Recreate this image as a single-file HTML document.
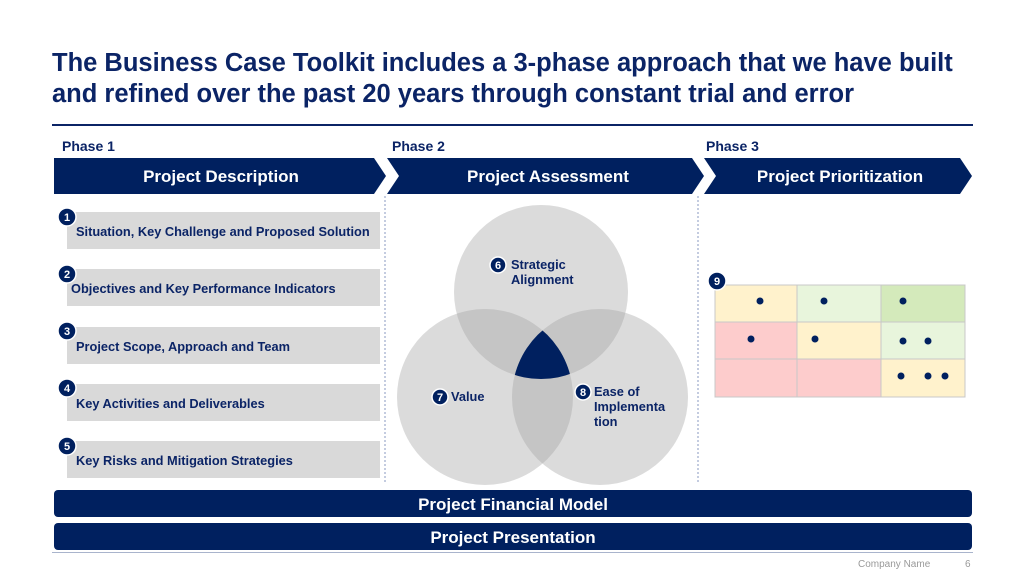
<!DOCTYPE html>
<html><head><meta charset="utf-8"><style>
html,body{margin:0;padding:0;background:#fff;}
svg{display:block;font-family:"Liberation Sans",Arial,sans-serif;}
</style></head><body>
<svg width="1024" height="576" viewBox="0 0 1024 576" xmlns="http://www.w3.org/2000/svg">
<defs>
<clipPath id="cl"><circle cx="485" cy="397" r="88"/></clipPath>
<clipPath id="cr"><circle cx="600" cy="397" r="88"/></clipPath>
</defs>
<text x="52" y="71" font-size="25.5" font-weight="bold" fill="#0b2466">The Business Case Toolkit includes a 3-phase approach that we have built</text>
<text x="52" y="102" font-size="25.5" font-weight="bold" fill="#0b2466">and refined over the past 20 years through constant trial and error</text>
<rect x="52" y="124" width="921" height="2" fill="#0b2466"/>
<g font-size="14" font-weight="bold" fill="#0b2466">
<text x="62" y="151">Phase 1</text><text x="392" y="151">Phase 2</text><text x="706" y="151">Phase 3</text></g>
<g fill="#00205f">
<polygon points="54,158 374,158 386,176 374,194 54,194"/>
<polygon points="387,158 692,158 704,176 692,194 387,194 399,176"/>
<polygon points="704,158 960,158 972,176 960,194 704,194 716,176"/>
</g>
<g font-size="17" font-weight="bold" fill="#fff" text-anchor="middle">
<text x="221" y="182">Project Description</text>
<text x="548" y="182">Project Assessment</text>
<text x="840" y="182">Project Prioritization</text></g>
<g stroke="#8a9ac0" stroke-width="1" stroke-dasharray="2,2">
<line x1="385" y1="196" x2="385" y2="482"/><line x1="698" y1="196" x2="698" y2="482"/></g>
<g fill="#d9d9d9">
<rect x="67" y="212" width="313" height="37"/><rect x="67" y="269" width="313" height="37"/>
<rect x="67" y="327" width="313" height="37"/><rect x="67" y="384" width="313" height="37"/>
<rect x="67" y="441" width="313" height="37"/></g>
<g font-size="12.8" font-weight="bold" fill="#0b2466">
<text x="76" y="236">Situation, Key Challenge and Proposed Solution</text>
<text x="71" y="293">Objectives and Key Performance Indicators</text>
<text x="76" y="351">Project Scope, Approach and Team</text>
<text x="76" y="408">Key Activities and Deliverables</text>
<text x="76" y="465">Key Risks and Mitigation Strategies</text></g>
<g fill="#00205f" stroke="#fff" stroke-width="1.5">
<circle cx="67" cy="217" r="9"/><circle cx="67" cy="274" r="9"/><circle cx="67" cy="331" r="9"/><circle cx="67" cy="388" r="9"/><circle cx="67" cy="446" r="9"/></g>
<g font-size="11" font-weight="bold" fill="#fff" text-anchor="middle">
<text x="67" y="221">1</text><text x="67" y="278">2</text><text x="67" y="335">3</text><text x="67" y="392">4</text><text x="67" y="450">5</text></g>
<g fill="#a0a0a0" fill-opacity="0.38">
<circle cx="541" cy="292" r="87"/><circle cx="485" cy="397" r="88"/><circle cx="600" cy="397" r="88"/></g>
<g clip-path="url(#cl)"><circle cx="541" cy="292" r="87" fill="#00205f" clip-path="url(#cr)"/></g>
<g fill="#00205f" stroke="#fff" stroke-width="1.5">
<circle cx="498" cy="265" r="8"/><circle cx="440" cy="397" r="8"/><circle cx="583" cy="392" r="8"/></g>
<g font-size="11" font-weight="bold" fill="#fff" text-anchor="middle">
<text x="498" y="269">6</text><text x="440" y="401">7</text><text x="583" y="396">8</text></g>
<g font-size="12.8" font-weight="bold" fill="#0b2466">
<text x="511" y="269">Strategic</text><text x="511" y="284">Alignment</text>
<text x="451" y="401">Value</text>
<text x="594" y="396">Ease of</text><text x="594" y="411">Implementa</text><text x="594" y="426">tion</text></g>
<g stroke="#c8c8c8" stroke-width="1">
<rect x="715" y="285" width="82" height="37" fill="#fff2cc"/><rect x="797" y="285" width="84" height="37" fill="#e8f5dc"/><rect x="881" y="285" width="84" height="37" fill="#d4eabb"/>
<rect x="715" y="322" width="82" height="37" fill="#fdcccc"/><rect x="797" y="322" width="84" height="37" fill="#fff2cc"/><rect x="881" y="322" width="84" height="37" fill="#e8f5dc"/>
<rect x="715" y="359" width="82" height="38" fill="#fdcccc"/><rect x="797" y="359" width="84" height="38" fill="#fdcccc"/><rect x="881" y="359" width="84" height="38" fill="#fff2cc"/></g>
<g fill="#00205f" stroke="#fff" stroke-width="1.5"><circle cx="717" cy="281" r="9"/></g>
<text x="717" y="285" font-size="11" font-weight="bold" fill="#fff" text-anchor="middle">9</text>
<g fill="#00205f">
<circle cx="760" cy="301" r="3.5"/><circle cx="824" cy="301" r="3.5"/><circle cx="903" cy="301" r="3.5"/>
<circle cx="751" cy="339" r="3.5"/><circle cx="815" cy="339" r="3.5"/><circle cx="903" cy="341" r="3.5"/><circle cx="928" cy="341" r="3.5"/>
<circle cx="901" cy="376" r="3.5"/><circle cx="928" cy="376" r="3.5"/><circle cx="945" cy="376" r="3.5"/></g>
<rect x="54" y="490" width="918" height="27" rx="4" fill="#00205f"/>
<rect x="54" y="523" width="918" height="27" rx="4" fill="#00205f"/>
<g font-size="17" font-weight="bold" fill="#fff" text-anchor="middle">
<text x="513" y="510">Project Financial Model</text><text x="513" y="543">Project Presentation</text></g>
<rect x="52" y="552" width="921" height="1" fill="#a9b4cc"/>
<text x="858" y="567" font-size="10" fill="#999">Company Name</text>
<text x="965" y="567" font-size="10" fill="#999">6</text>
</svg>
</body></html>
